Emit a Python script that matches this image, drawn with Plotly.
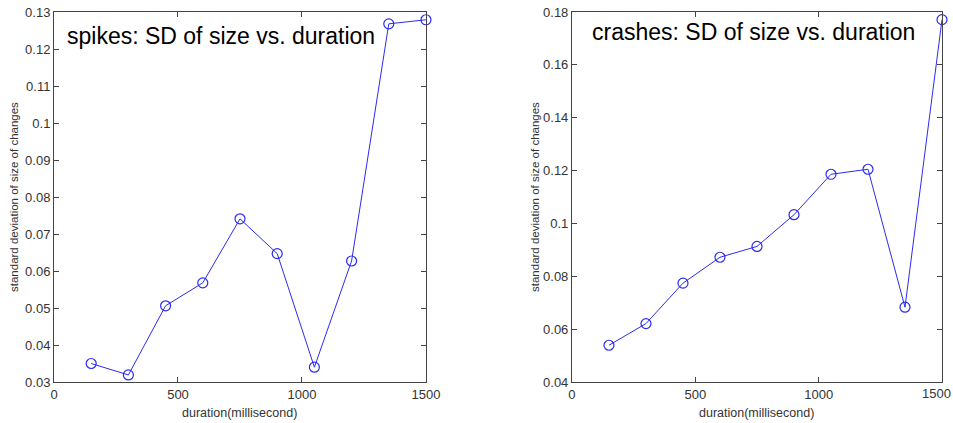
import plotly.graph_objects as go

durations = [150, 300, 450, 600, 750, 900, 1050, 1200, 1350, 1500]
spikes_sd = [0.0350, 0.0319, 0.0506, 0.0568, 0.0741, 0.0647, 0.0340, 0.0627, 0.1268, 0.1279]
crashes_sd = [0.0539, 0.0621, 0.0774, 0.0872, 0.0913, 0.1033, 0.1186, 0.1205, 0.0683, 0.1771]

x_ticks = [0, 500, 1000, 1500]
x_ticktext = ["0", "500", "1000", "1500"]
spikes_yticks = [0.03, 0.04, 0.05, 0.06, 0.07, 0.08, 0.09, 0.10, 0.11, 0.12, 0.13]
spikes_yticktext = ["0.03", "0.04", "0.05", "0.06", "0.07", "0.08", "0.09", "0.1", "0.11", "0.12", "0.13"]
crashes_yticks = [0.04, 0.06, 0.08, 0.10, 0.12, 0.14, 0.16, 0.18]
crashes_yticktext = ["0.04", "0.06", "0.08", "0.1", "0.12", "0.14", "0.16", "0.18"]

LINE_BLUE = "#2b2bf0"
TICK_FONT = dict(family="Liberation Sans Narrow, Arial Narrow, Liberation Sans, sans-serif", size=13, color="#333333")
LABEL_FONT = dict(family="Liberation Sans Narrow, Arial Narrow, Liberation Sans, sans-serif", size=12.5, color="#333333")

fig = go.Figure()
fig.add_trace(go.Scatter(x=durations, y=spikes_sd, mode="lines+markers", xaxis="x", yaxis="y",
                         line=dict(color=LINE_BLUE, width=1),
                         marker=dict(symbol="circle-open", size=10, color=LINE_BLUE, line=dict(width=1.2)),
                         showlegend=False, cliponaxis=False))
fig.add_trace(go.Scatter(x=durations, y=crashes_sd, mode="lines+markers", xaxis="x2", yaxis="y2",
                         line=dict(color=LINE_BLUE, width=1),
                         marker=dict(symbol="circle-open", size=10, color=LINE_BLUE, line=dict(width=1.2)),
                         showlegend=False, cliponaxis=False))

axis_common = dict(showline=True, linecolor="#444444", linewidth=1, mirror="ticks",
                   ticks="inside", ticklen=5, tickcolor="#444444", showgrid=False, zeroline=False,
                   tickfont=TICK_FONT, automargin=False, ticklabeloverflow="allow")

# last x tick label of right panel drawn as right-aligned annotation so it stays inside the page
x2_ticktext = x_ticktext[:-1] + [""]

fig.update_layout(
    width=953, height=423,
    margin=dict(l=54, r=11, t=12, b=41),
    paper_bgcolor="white", plot_bgcolor="white",
    xaxis=dict(domain=[0, 0.4189], range=[0, 1500], tickvals=x_ticks, ticktext=x_ticktext, anchor="y", **axis_common),
    yaxis=dict(domain=[0, 1], range=[0.03, 0.13], tickvals=spikes_yticks, ticktext=spikes_yticktext,
               anchor="x", **axis_common),
    xaxis2=dict(domain=[0.5833, 1], range=[0, 1500], tickvals=x_ticks, ticktext=x2_ticktext, anchor="y2", **axis_common),
    yaxis2=dict(domain=[0, 1], range=[0.04, 0.18], tickvals=crashes_yticks, ticktext=crashes_yticktext,
                anchor="x2", **axis_common),
)

title_font = dict(family="Liberation Sans, Arial, sans-serif", size=23, color="black")
yt_font = dict(family="Liberation Sans, Arial, sans-serif", size=11.5, color="#333333")

annotations = [
    dict(text="spikes: SD of size vs. duration", xref="x domain", yref="y domain", x=0.03, y=0.935,
         xanchor="left", yanchor="middle", showarrow=False, font=title_font),
    dict(text="crashes: SD of size vs. duration", xref="x2 domain", yref="y2 domain", x=0.05, y=0.945,
         xanchor="left", yanchor="middle", showarrow=False, font=title_font),
    dict(text="duration(millisecond)", xref="x domain", yref="paper", x=0.5, y=-0.085,
         xanchor="center", yanchor="middle", showarrow=False, font=LABEL_FONT),
    dict(text="duration(millisecond)", xref="x2 domain", yref="paper", x=0.5, y=-0.085,
         xanchor="center", yanchor="middle", showarrow=False, font=LABEL_FONT),
    dict(text="standard deviation of size of changes", xref="paper", yref="paper", x=(14 - 54) / 888, y=0.5,
         xanchor="center", yanchor="middle", textangle=-90, showarrow=False, font=yt_font),
    dict(text="standard deviation of size of changes", xref="paper", yref="paper", x=(535 - 54) / 888, y=0.5,
         xanchor="center", yanchor="middle", textangle=-90, showarrow=False, font=yt_font),
    dict(text=x_ticktext[-1], xref="paper", yref="paper", x=(952 - 54) / 888, y=-0.0085,
         xanchor="right", yanchor="top", showarrow=False, font=TICK_FONT, borderpad=0, xshift=0),
]
fig.update_layout(annotations=annotations)

fig.write_html("out.html")
